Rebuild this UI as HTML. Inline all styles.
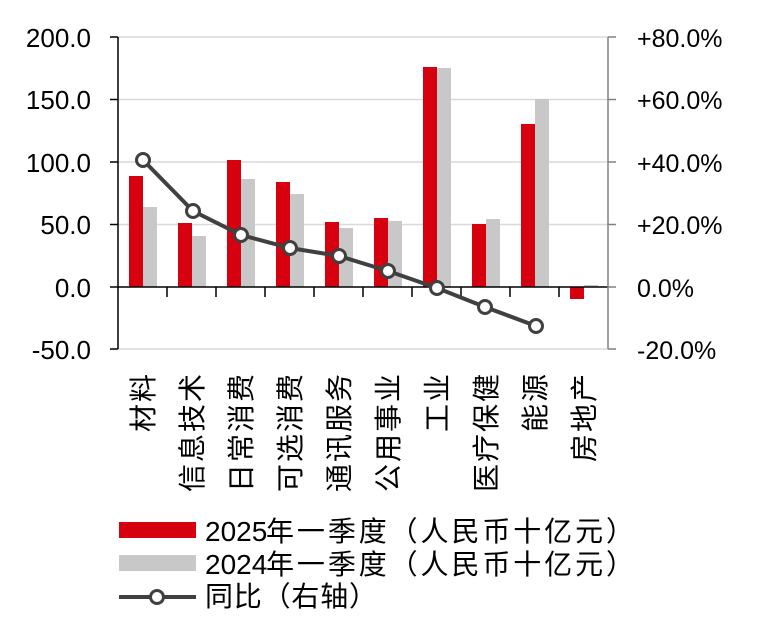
<!DOCTYPE html>
<html><head><meta charset="utf-8"><style>
body{margin:0;background:#fff}
svg{display:block}
text{font-family:"Liberation Sans","Noto Sans CJK SC",sans-serif;fill:#000}
.cj{font-family:"Liberation Serif","Noto Serif CJK SC",serif}
</style></head><body>
<svg width="762" height="637" viewBox="0 0 762 637" xmlns="http://www.w3.org/2000/svg">
<g stroke="#d9d9d9" stroke-width="1.5">
<line x1="118" x2="608" y1="37" y2="37"/><line x1="118" x2="608" y1="99.5" y2="99.5"/>
<line x1="118" x2="608" y1="162" y2="162"/><line x1="118" x2="608" y1="224.5" y2="224.5"/>
<line x1="118" x2="608" y1="349" y2="349"/>
</g>
<g id="bars">
<rect x="129" y="176" width="14" height="111" fill="#d7000f"/><rect x="143" y="207" width="14" height="80" fill="#c8c8c8"/>
<rect x="178" y="223" width="14" height="64" fill="#d7000f"/><rect x="192" y="236" width="14" height="51" fill="#c8c8c8"/>
<rect x="227" y="160" width="14" height="127" fill="#d7000f"/><rect x="241" y="179" width="14" height="108" fill="#c8c8c8"/>
<rect x="276" y="182" width="14" height="105" fill="#d7000f"/><rect x="290" y="194" width="14" height="93" fill="#c8c8c8"/>
<rect x="325" y="222" width="14" height="65" fill="#d7000f"/><rect x="339" y="228" width="14" height="59" fill="#c8c8c8"/>
<rect x="374" y="218" width="14" height="69" fill="#d7000f"/><rect x="388" y="221" width="14" height="66" fill="#c8c8c8"/>
<rect x="423" y="67" width="14" height="220" fill="#d7000f"/><rect x="437" y="68" width="14" height="219" fill="#c8c8c8"/>
<rect x="472" y="224" width="14" height="63" fill="#d7000f"/><rect x="486" y="219" width="14" height="68" fill="#c8c8c8"/>
<rect x="521" y="124" width="14" height="163" fill="#d7000f"/><rect x="535" y="99" width="14" height="188" fill="#c8c8c8"/>
<rect x="570" y="287" width="14" height="12" fill="#d7000f"/><rect x="584" y="285" width="14" height="2" fill="#c8c8c8"/>
</g>
<g stroke="#000" stroke-width="1.5">
<line x1="118" y1="37" x2="118" y2="349"/>
<line x1="118" y1="287" x2="608" y2="287"/>
<line x1="110" x2="118" y1="37" y2="37"/><line x1="110" x2="118" y1="99.5" y2="99.5"/><line x1="110" x2="118" y1="162" y2="162"/><line x1="110" x2="118" y1="224.5" y2="224.5"/><line x1="110" x2="118" y1="287" y2="287"/><line x1="110" x2="118" y1="349" y2="349"/>
<line x1="167" x2="167" y1="287" y2="297"/><line x1="216" x2="216" y1="287" y2="297"/><line x1="265" x2="265" y1="287" y2="297"/><line x1="314" x2="314" y1="287" y2="297"/><line x1="363" x2="363" y1="287" y2="297"/><line x1="412" x2="412" y1="287" y2="297"/><line x1="461" x2="461" y1="287" y2="297"/><line x1="510" x2="510" y1="287" y2="297"/><line x1="559" x2="559" y1="287" y2="297"/>
</g>
<g stroke="#808080" stroke-width="1.5">
<line x1="608" y1="37" x2="608" y2="349"/>
<line x1="608" x2="616" y1="37" y2="37"/><line x1="608" x2="616" y1="99.5" y2="99.5"/><line x1="608" x2="616" y1="162" y2="162"/><line x1="608" x2="616" y1="224.5" y2="224.5"/><line x1="608" x2="616" y1="287" y2="287"/><line x1="608" x2="616" y1="349" y2="349"/>
</g>
<g font-size="26" text-anchor="end">
<text x="91" y="47">200.0</text><text x="91" y="109">150.0</text><text x="91" y="172">100.0</text><text x="91" y="234">50.0</text><text x="91" y="297">0.0</text><text x="91" y="359">-50.0</text>
</g>
<g font-size="25" text-anchor="start">
<text x="637" y="47">+80.0%</text><text x="637" y="109">+60.0%</text><text x="637" y="172">+40.0%</text><text x="637" y="234">+20.0%</text><text x="637" y="297">0.0%</text><text x="637" y="359">-20.0%</text>
</g>
<polyline points="143,160 193,211 241,235 290,248 339,256 388,271 437,288 485,307 536,326" fill="none" stroke="#404040" stroke-width="4"/>
<g fill="#fff" stroke="#404040" stroke-width="3">
<circle cx="143" cy="160" r="6.5"/><circle cx="193" cy="211" r="6.5"/><circle cx="241" cy="235" r="6.5"/><circle cx="290" cy="248" r="6.5"/><circle cx="339" cy="256" r="6.5"/><circle cx="388" cy="271" r="6.5"/><circle cx="437" cy="288" r="6.5"/><circle cx="485" cy="307" r="6.5"/><circle cx="536" cy="326" r="6.5"/>
</g>
<g font-size="28" class="cj" text-anchor="end" letter-spacing="2">
<text transform="translate(153,372) rotate(-90)">材料</text>
<text transform="translate(202,372) rotate(-90)">信息技术</text>
<text transform="translate(251,372) rotate(-90)">日常消费</text>
<text transform="translate(300,372) rotate(-90)">可选消费</text>
<text transform="translate(349,372) rotate(-90)">通讯服务</text>
<text transform="translate(398,372) rotate(-90)">公用事业</text>
<text transform="translate(447,372) rotate(-90)">工业</text>
<text transform="translate(496,372) rotate(-90)">医疗保健</text>
<text transform="translate(545,372) rotate(-90)">能源</text>
<text transform="translate(594,372) rotate(-90)">房地产</text>
</g>
<rect x="119" y="522" width="77" height="16" fill="#d7000f"/>
<rect x="119" y="555" width="77" height="16" fill="#c8c8c8"/>
<line x1="119" y1="597" x2="196" y2="597" stroke="#404040" stroke-width="4"/>
<circle cx="157" cy="597" r="6.5" fill="#fff" stroke="#404040" stroke-width="3"/>
<g font-size="28">
<text x="205" y="541">2025</text><text x="266" y="541" textLength="368">年一季度（人民币十亿元）</text>
<text x="205" y="574">2024</text><text x="266" y="574" textLength="368">年一季度（人民币十亿元）</text>
<text x="205" y="606" textLength="172">同比（右轴）</text>
</g>
</svg>
</body></html>
